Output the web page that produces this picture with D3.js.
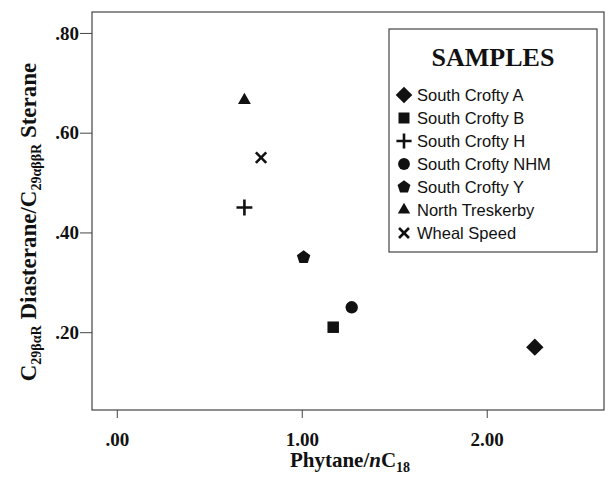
<!DOCTYPE html><html><head><meta charset="utf-8">
<script src="https://cdn.jsdelivr.net/npm/d3@7"></script>
<style>body{margin:0;background:#fff}</style></head><body><svg width="612" height="481"></svg>
<script>
const samples=["South Crofty A","South Crofty B","South Crofty H","South Crofty NHM","South Crofty Y","North Treskerby","Wheal Speed"];
const xVals=[2.26,1.17,0.69,1.27,1.01,0.69,0.78];
const yVals=[0.17,0.21,0.45,0.25,0.35,0.665,0.55];
const symbols=[d3.symbolDiamond2,d3.symbolSquare,d3.symbolPlus,d3.symbolCircle,"pent",d3.symbolTriangle,d3.symbolX];
const symScale=[1.6,1.1,0.7,1.0,1.0,0.6,0.6];
const xTicks=[0,1,2], yTicks=[0.2,0.4,0.6,0.8];
const svg=d3.select("svg");
const L=92,R=604,T=12,B=410;
const x=d3.scaleLinear().domain([-0.134,2.634]).range([L,R]);
const y=d3.scaleLinear().domain([0.044,0.842]).range([B,T]);
const fmt=d=>d3.format(".2f")(d).replace(/^0/,"");
svg.append("rect").attr("x",L).attr("y",T).attr("width",R-L).attr("height",B-T).attr("fill","none").attr("stroke","#444").attr("stroke-width",1.2);
const serif="'Liberation Serif','Times New Roman',serif";
const xa=svg.append("g").attr("transform",`translate(0,${B})`).call(d3.axisBottom(x).tickValues(xTicks).tickFormat(fmt).tickSize(8).tickSizeOuter(0));
const ya=svg.append("g").attr("transform",`translate(${L},0)`).call(d3.axisLeft(y).tickValues(yTicks).tickFormat(fmt).tickSize(12).tickSizeOuter(0));
[xa,ya].forEach(a=>{a.select(".domain").remove();a.selectAll("line").attr("stroke","#444");a.selectAll("text").attr("font-family",serif).attr("font-weight","bold").attr("font-size",19).attr("fill","#111");});
xa.selectAll("text").attr("dy","1.3em");
ya.selectAll("text").attr("x",-13);
function sym(s,size){ if(s==="pent"){const r=Math.sqrt(size/2.4);let p=[];for(let i=0;i<5;i++){const a=-Math.PI/2+i*2*Math.PI/5;p.push([r*Math.cos(a),r*Math.sin(a)]);}return "M"+p.join("L")+"Z";} return d3.symbol(s,size)();}
function draw(g,i,size){const s=symbols[i];const p=g.append("path").attr("d",sym(s,size*symScale[i]));
 if(s===d3.symbolX||s===d3.symbolPlus){p.attr("fill","none").attr("stroke","#111").attr("stroke-width",2.6);} else p.attr("fill","#111");}
samples.forEach((s,i)=>{const g=svg.append("g").attr("transform",`translate(${x(xVals[i])},${y(yVals[i])})`);draw(g,i,120);});
// legend
svg.append("rect").attr("x",389).attr("y",29).attr("width",208).attr("height",223).attr("fill","#fff").attr("stroke","#444").attr("stroke-width",1.2);
svg.append("text").attr("x",493).attr("y",66).attr("text-anchor","middle").attr("font-family",serif).attr("font-weight","bold").attr("font-size",26).attr("fill","#111").text("SAMPLES");
samples.forEach((s,i)=>{const yy=95+i*23;const g=svg.append("g").attr("transform",`translate(404,${yy})`);draw(g,i,110);
 svg.append("text").attr("x",417).attr("y",yy+6).attr("font-family","'Liberation Sans',Arial,sans-serif").attr("font-size",16.5).attr("fill","#111").text(s);});
svg.append("text").attr("x",350).attr("y",467).attr("text-anchor","middle").attr("font-family",serif).attr("font-weight","bold").attr("font-size",21).attr("fill","#111")
 .html('Phytane/<tspan font-style="italic">n</tspan>C<tspan font-size="14" dy="5">18</tspan>');
svg.append("text").attr("transform","translate(36,222) rotate(-90)").attr("text-anchor","middle").attr("font-family",serif).attr("font-weight","bold").attr("font-size",23).attr("fill","#111")
 .html('C<tspan font-size="14" dy="5">29βαR</tspan><tspan dy="-5"> Diasterane/C</tspan><tspan font-size="14" dy="5">29αββR</tspan><tspan dy="-5"> Sterane</tspan>');
</script></body></html>
